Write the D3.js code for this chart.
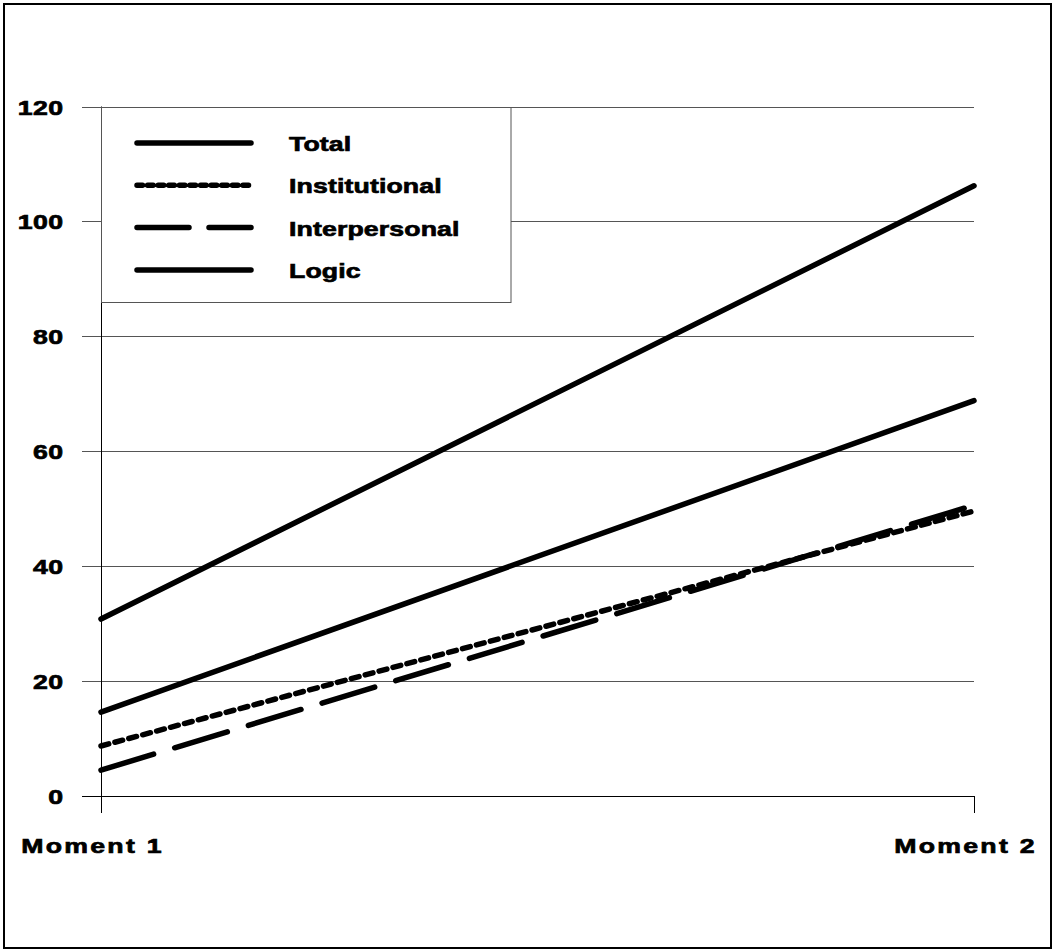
<!DOCTYPE html>
<html>
<head>
<meta charset="utf-8">
<script src="https://cdn.jsdelivr.net/npm/d3@7"></script>
<style>
  html, body { margin: 0; padding: 0; background: #fff; }
  svg { display: block; }
  text { font-family: "Liberation Sans", Arial, sans-serif; font-weight: bold; fill: #000; stroke: #000; stroke-width: 0.7px; }
</style>
</head>
<body>
<svg id="chart" width="1054" height="951"></svg>
<script>
const categories = ["Moment 1", "Moment 2"];
const seriesNames = ["Total", "Institutional", "Interpersonal", "Logic"];
const totalValues = [30.8, 106.2];
const institutionalValues = [8.7, 49.6];
const interpersonalValues = [4.5, 50.6];
const logicValues = [14.6, 68.8];
const yTicks = [0, 20, 40, 60, 80, 100, 120];

const series = [
  { name: seriesNames[0], values: totalValues, dash: null, legendDash: null },
  { name: seriesNames[1], values: institutionalValues, dash: "8,6.4", legendDash: "5.5,5.1" },
  { name: seriesNames[2], values: interpersonalValues, dash: "55,22", legendDash: "52,20" },
  { name: seriesNames[3], values: logicValues, dash: null, legendDash: null }
];

const SX = 1.27; // horizontal stretch of the wide bold font
const FS = 21;

const svg = d3.select("#chart");
const W = 1054, H = 951;

// outer border
svg.append("rect").attr("x", 4).attr("y", 4).attr("width", W - 7).attr("height", H - 7)
  .attr("fill", "none").attr("stroke", "#000").attr("stroke-width", 2);

const x = d3.scalePoint().domain(categories).range([101, 974]);
const y = d3.scaleLinear().domain([0, 120]).range([796, 106.5]);

// gridlines
const grid = svg.append("g");
grid.selectAll("line").data(yTicks.filter(d => d > 0)).join("line")
  .attr("x1", 82).attr("x2", 974)
  .attr("y1", d => Math.round(y(d)) + 0.5).attr("y2", d => Math.round(y(d)) + 0.5)
  .attr("stroke", "#555").attr("stroke-width", 1);

// y axis
const yAxis = svg.append("g").attr("transform", "translate(101.5,0)")
  .call(d3.axisLeft(y).tickValues(yTicks).tickSize(0).tickPadding(0));
yAxis.select(".domain").remove();
yAxis.selectAll("text").attr("font-size", FS).attr("letter-spacing", "0.3px")
  .attr("font-family", "Liberation Sans, Arial, sans-serif").attr("font-weight", "bold")
  .attr("fill", "#000").attr("dy", "0.36em")
  .attr("x", -38 / SX).attr("transform", `scale(${SX},1)`);

svg.append("line").attr("x1", 101.5).attr("x2", 101.5).attr("y1", y(120)).attr("y2", 813)
  .attr("stroke", "#000").attr("stroke-width", 1);

// x axis
svg.append("line").attr("x1", 82).attr("x2", 974)
  .attr("y1", Math.round(y(0)) + 0.5).attr("y2", Math.round(y(0)) + 0.5)
  .attr("stroke", "#000").attr("stroke-width", 1);
svg.append("line").attr("x1", 974.5).attr("x2", 974.5).attr("y1", y(0)).attr("y2", 813)
  .attr("stroke", "#000").attr("stroke-width", 1);

const xAxis = svg.append("g").attr("transform", "translate(0,796)")
  .call(d3.axisBottom(x).tickSize(0).tickPadding(0));
xAxis.select(".domain").remove();
xAxis.selectAll("text").attr("font-size", FS).attr("letter-spacing", "1.8px")
  .attr("font-family", "Liberation Sans, Arial, sans-serif").attr("font-weight", "bold")
  .attr("fill", "#000").attr("dy", null).attr("y", 57)
  .attr("x", -9 / SX).attr("transform", `scale(${SX},1)`);

// legend box
const legend = svg.append("g");
legend.append("rect").attr("x", 101.5).attr("y", Math.round(y(120)) + 0.5)
  .attr("width", 409.5).attr("height", 195)
  .attr("fill", "#fff").attr("stroke", "#555").attr("stroke-width", 1);

// series lines
const line = d3.line().x((d, i) => x(categories[i])).y(d => y(d));
svg.append("g").selectAll("path").data(series).join("path")
  .attr("d", d => line(d.values))
  .attr("fill", "none").attr("stroke", "#000").attr("stroke-width", 5.5)
  .attr("stroke-linecap", "round")
  .attr("stroke-dasharray", d => d.dash);

// legend entries
const rows = legend.selectAll("g.item").data(series).join("g").attr("class", "item")
  .attr("transform", (d, i) => `translate(0,${143 + i * 42.3})`);
rows.append("line").attr("x1", 137).attr("x2", 251).attr("y1", 0).attr("y2", 0)
  .attr("stroke", "#000").attr("stroke-width", 5.5).attr("stroke-linecap", "round")
  .attr("stroke-dasharray", d => d.legendDash);
rows.append("text").attr("transform", `translate(289,8) scale(${SX},1)`)
  .attr("font-size", FS).attr("letter-spacing", "0.1px").text(d => d.name);
</script>
</body>
</html>
